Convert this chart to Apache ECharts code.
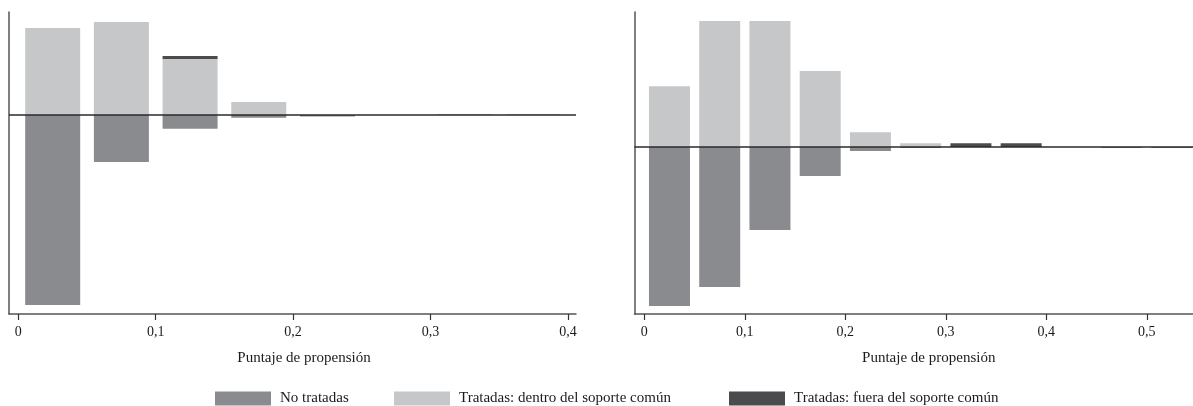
<!DOCTYPE html>
<html>
<head>
<meta charset="utf-8">
<script src="https://cdn.jsdelivr.net/npm/echarts@6/dist/echarts.min.js"></script>
<style>html,body{margin:0;padding:0;background:#fff}#c{width:1193px;height:406px}</style>
</head>
<body>
<div id="c"></div>
<script>
// ---- data ----
const binsLeft = [0.025, 0.075, 0.125, 0.175, 0.225, 0.275, 0.325, 0.375];
const untreatedLeft = [-1.90, -0.47, -0.137, -0.027, -0.015, 0, 0, 0];
const treatedInLeft = [0.87, 0.93, 0.56, 0.13, 0, 0, 0.01, 0.01];
const treatedOffLeft = [0, 0, 0.03, 0, 0, 0, 0, 0];

const binsRight = [0.025, 0.075, 0.125, 0.175, 0.225, 0.275, 0.325, 0.375, 0.425, 0.475, 0.525];
const untreatedRight = [-1.59, -1.40, -0.83, -0.29, -0.04, -0.01, 0, 0, 0, -0.01, -0.01];
const treatedInRight = [0.607, 1.26, 1.26, 0.76, 0.147, 0.037, 0, 0, 0, 0, 0];
const treatedOffRight = [0, 0, 0, 0, 0, 0, 0.037, 0.037, 0, 0, 0];

const ticksLeft = [0, 0.1, 0.2, 0.3, 0.4];
const ticksRight = [0, 0.1, 0.2, 0.3, 0.4, 0.5];
const xTitle = 'Puntaje de propensión';
const seriesNames = ['No tratadas', 'Tratadas: dentro del soporte común', 'Tratadas: fuera del soporte común'];
// ---------------

const colors = ['#8a8b8f', '#c6c7c9', '#4b4b4d'];
const FONT = '"Liberation Serif", "DejaVu Serif", serif';
// value first so that the stack is applied on the y dimension
const pair = (xs, ys) => xs.map((x, i) => [ys[i], x]);
const fmt = v => String(Math.round(v * 10) / 10).replace('.', ',');

function xAxis(idx, min, max, ticks, pad) {
  return {
    type: 'value', gridIndex: idx, min: min, max: max, position: 'bottom',
    axisLine: { show: true, onZero: false, lineStyle: { color: '#555', width: 1.5 } },
    axisTick: { show: true, length: 6, inside: false, customValues: ticks, lineStyle: { color: '#333', width: 1.2 } },
    axisLabel: { show: true, customValues: ticks, formatter: fmt, margin: 11, fontFamily: FONT, fontSize: 14, color: '#1a1a1a' },
    splitLine: { show: false },
    name: xTitle, nameLocation: 'middle', nameGap: 37,
    nameTextStyle: { fontFamily: FONT, fontSize: 15, color: '#1a1a1a', padding: [0, 0, 0, pad] }
  };
}
function yAxis(idx, min, max) {
  return {
    type: 'value', gridIndex: idx, min: min, max: max, position: 'left',
    axisLine: { show: true, onZero: false, lineStyle: { color: '#555', width: 1.5 } },
    axisTick: { show: false }, axisLabel: { show: false }, splitLine: { show: false }
  };
}
function bars(idx, name, data, color, width, withZero) {
  const s = {
    type: 'bar', name: name, xAxisIndex: idx, yAxisIndex: idx,
    data: data, encode: { x: 1, y: 0 }, stack: 'g' + idx,
    barWidth: width, barGap: '-100%',
    itemStyle: { color: color },
    emphasis: { disabled: true }
  };
  if (withZero) {
    s.markLine = {
      silent: true, symbol: 'none', label: { show: false },
      lineStyle: { color: '#2a2a2a', width: 1.5, type: 'solid' },
      data: [{ yAxis: 0 }], z: 10
    };
  }
  return s;
}
function legend(left, i) {
  return {
    left: left, top: 391, padding: 0, itemWidth: 56, itemHeight: 14,
    icon: 'rect', selectedMode: false, data: [seriesNames[i]],
    textStyle: { fontFamily: FONT, fontSize: 15, color: '#1a1a1a', padding: [0, 0, 0, 4] }
  };
}

const chart = echarts.init(document.getElementById('c'));
chart.setOption({
  animation: false,
  backgroundColor: '#fff',
  grid: [
    { left: 9, top: 12, width: 567, height: 302 },
    { left: 634.5, top: 12, width: 558.5, height: 302 }
  ],
  xAxis: [
    xAxis(0, -0.0068, 0.4059, ticksLeft, 23),
    xAxis(1, -0.0098, 0.546, ticksRight, 30)
  ],
  yAxis: [yAxis(0, -1.99, 1.03), yAxis(1, -1.67, 1.35)],
  legend: [legend(215, 0), legend(394, 1), legend(729, 2)],
  series: [
    bars(0, seriesNames[0], pair(binsLeft, untreatedLeft), colors[0], 55, false),
    bars(0, seriesNames[1], pair(binsLeft, treatedInLeft), colors[1], 55, false),
    bars(0, seriesNames[2], pair(binsLeft, treatedOffLeft), colors[2], 55, true),
    bars(1, seriesNames[0], pair(binsRight, untreatedRight), colors[0], 41, false),
    bars(1, seriesNames[1], pair(binsRight, treatedInRight), colors[1], 41, false),
    bars(1, seriesNames[2], pair(binsRight, treatedOffRight), colors[2], 41, true)
  ]
});
</script>
</body>
</html>
